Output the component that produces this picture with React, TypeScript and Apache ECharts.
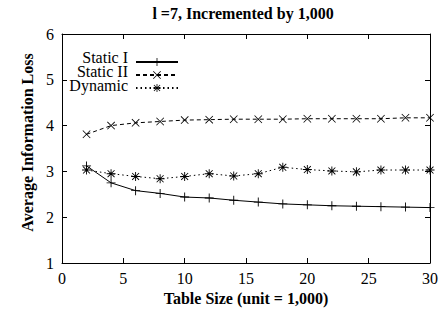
import React, { useEffect, useRef } from "react";
import * as echarts from "echarts";

const xValues = [2, 4, 6, 8, 10, 12, 14, 16, 18, 20, 22, 24, 26, 28, 30];
const staticI = [3.12, 2.75, 2.58, 2.52, 2.44, 2.42, 2.37, 2.33, 2.29, 2.27, 2.25, 2.24, 2.23, 2.22, 2.21];
const staticII = [3.81, 4.0, 4.06, 4.09, 4.12, 4.13, 4.14, 4.14, 4.14, 4.15, 4.15, 4.15, 4.15, 4.17, 4.17];
const dynamic = [3.03, 2.95, 2.89, 2.84, 2.89, 2.95, 2.9, 2.95, 3.09, 3.04, 3.01, 2.99, 3.03, 3.03, 3.03];
const seriesNames = ["Static I", "Static II", "Dynamic"];
const xTicks = [0, 5, 10, 15, 20, 25, 30];
const yTicks = [1, 2, 3, 4, 5, 6];
const titleText = "l =7, Incremented by 1,000";
const xName = "Table Size (unit = 1,000)";
const yName = "Average Information Loss";

const FONT = "Liberation Serif";
const FS = 16;

const PLUS = "path://M0,4.5H10V5.5H0Z M4.5,0H5.5V10H4.5Z";
const CROSS = "path://M0,0.7L0.7,0L10,9.3L9.3,10Z M10,0.7L0.7,10L0,9.3L9.3,0Z";
const STAR =
  "path://M0,4.5H10V5.5H0Z M4.5,0H5.5V10H4.5Z M0.8,1.5L1.5,0.8L9.2,8.5L8.5,9.2Z M9.2,1.5L1.5,9.2L0.8,8.5L8.5,0.8Z";

function pairs(ys: number[]) {
  return xValues.map((x, i) => [x, ys[i]]);
}

function txt(text: string, x: number, y: number, align: string, bold: boolean, rotation = 0) {
  return {
    type: "text",
    x,
    y,
    rotation,
    silent: true,
    style: {
      text,
      fontFamily: FONT,
      fontSize: FS,
      fontWeight: bold ? "bold" : "normal",
      fill: "#000",
      align,
      verticalAlign: "middle",
      textAlign: align,
      textVerticalAlign: "middle",
    },
  };
}

export default function App() {
  const ref = useRef<HTMLDivElement>(null);
  useEffect(() => {
    if (!ref.current) return;
    document.body.style.margin = "0";
    const chart = echarts.init(ref.current, undefined, { renderer: "svg" });
    const tickStyle = { show: true, inside: true, length: 5, lineStyle: { color: "#000", width: 1 } };
    const axisLine = { show: true, onZero: false, lineStyle: { color: "#000", width: 1 } };
    const axisBase = { axisLine, axisTick: tickStyle, splitLine: { show: false }, axisLabel: { show: false } };
    chart.setOption({
      animation: false,
      grid: { left: 62, right: 9, top: 34, bottom: 46 },
      legend: {
        orient: "vertical",
        align: "right",
        left: 130,
        top: 52,
        itemWidth: 42,
        itemHeight: 10,
        itemGap: 4,
        data: seriesNames,
        formatter: () => "",
        textStyle: { fontFamily: FONT, fontSize: 1, color: "#000" },
      },
      xAxis: [
        { type: "value", min: 0, max: 30, interval: 5, position: "bottom", ...axisBase },
        { type: "value", min: 0, max: 30, interval: 5, position: "top", ...axisBase },
      ],
      yAxis: [
        { type: "value", min: 1, max: 6, interval: 1, position: "left", ...axisBase },
        { type: "value", min: 1, max: 6, interval: 1, position: "right", ...axisBase },
      ],
      series: [
        {
          name: seriesNames[0],
          type: "line",
          data: pairs(staticI),
          symbol: PLUS,
          symbolSize: 9,
          showAllSymbol: true,
          itemStyle: { color: "#000" },
          lineStyle: { color: "#000", width: 1, type: "solid" },
        },
        {
          name: seriesNames[1],
          type: "line",
          data: pairs(staticII),
          symbol: CROSS,
          symbolSize: 8,
          showAllSymbol: true,
          itemStyle: { color: "#000" },
          lineStyle: { color: "#000", width: 1, type: [4, 3] },
        },
        {
          name: seriesNames[2],
          type: "line",
          data: pairs(dynamic),
          symbol: STAR,
          symbolSize: 9,
          showAllSymbol: true,
          itemStyle: { color: "#000" },
          lineStyle: { color: "#000", width: 1, type: [1.5, 3] },
        },
      ],
    });

    const x0 = chart.convertToPixel({ xAxisIndex: 0 }, 0) as number;
    const x1 = chart.convertToPixel({ xAxisIndex: 0 }, 30) as number;
    const y0 = chart.convertToPixel({ yAxisIndex: 0 }, 1) as number;
    const y1 = chart.convertToPixel({ yAxisIndex: 0 }, 6) as number;
    const texts: any[] = [];
    xTicks.forEach((v) => {
      const px = chart.convertToPixel({ xAxisIndex: 0 }, v) as number;
      texts.push(txt(String(v), px, y0 + 15, "center", false));
    });
    yTicks.forEach((v) => {
      const py = chart.convertToPixel({ yAxisIndex: 0 }, v) as number;
      texts.push(txt(String(v), x0 - 8, py, "right", false));
    });
    const midX = (x0 + x1) / 2;
    texts.push(txt(titleText, midX - 3, 13, "center", true));
    texts.push(txt(xName, midX, y0 + 35, "center", true));
    texts.push(txt(yName, 27, (y0 + y1) / 2 - 6, "center", true, Math.PI / 2));
    const legendY = [57, 71.3, 85.6];
    seriesNames.forEach((n, i) => {
      texts.push(txt(n, 128, legendY[i], "right", false));
    });
    chart.setOption({ graphic: texts });

    return () => chart.dispose();
  }, []);
  return <div ref={ref} style={{ width: 439, height: 309 }} />;
}
